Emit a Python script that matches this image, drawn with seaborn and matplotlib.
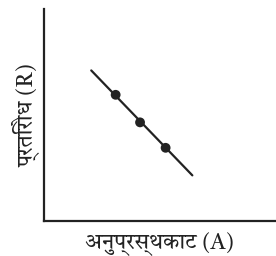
import matplotlib
matplotlib.use("Agg")
import matplotlib.pyplot as plt
import seaborn as sns
import pandas as pd

# measured points (cross-section area vs resistance)
area = [3.1, 4.15, 5.25]
resistance = [5.95, 4.65, 3.45]

# straight line drawn through them
line_area = [2.05, 6.4]
line_resistance = [7.1, 2.15]

x_label = "अनुप्रस्थकाट (A)"
y_label = "प्रतिरोध (R)"

sns.set_style("white")
plt.rcParams['font.family'] = ['Tiro Devanagari Hindi', 'DejaVu Serif']

points = pd.DataFrame({'area': area, 'resistance': resistance})
fit = pd.DataFrame({'area': line_area, 'resistance': line_resistance})

fig = plt.figure(figsize=(2.76, 2.56), dpi=100)
ax = fig.add_axes([0.158, 0.137, 0.842, 0.828])

sns.lineplot(data=fit, x='area', y='resistance', color='#222222', linewidth=1.6, ax=ax)
sns.scatterplot(data=points, x='area', y='resistance', color='#222222', s=50,
                edgecolor='none', zorder=3, ax=ax)

ax.set_xlim(0, 10)
ax.set_ylim(0, 10)
ax.set_xticks([])
ax.set_yticks([])
sns.despine(ax=ax)
for side in ['left', 'bottom']:
    ax.spines[side].set_linewidth(1.6)
    ax.spines[side].set_color('#222222')

ax.set_xlabel(x_label, fontsize=15.5, color='#222222', labelpad=8)
ax.set_ylabel(y_label, fontsize=15.5, color='#222222', labelpad=3)

fig.savefig("out.png", dpi=100)
